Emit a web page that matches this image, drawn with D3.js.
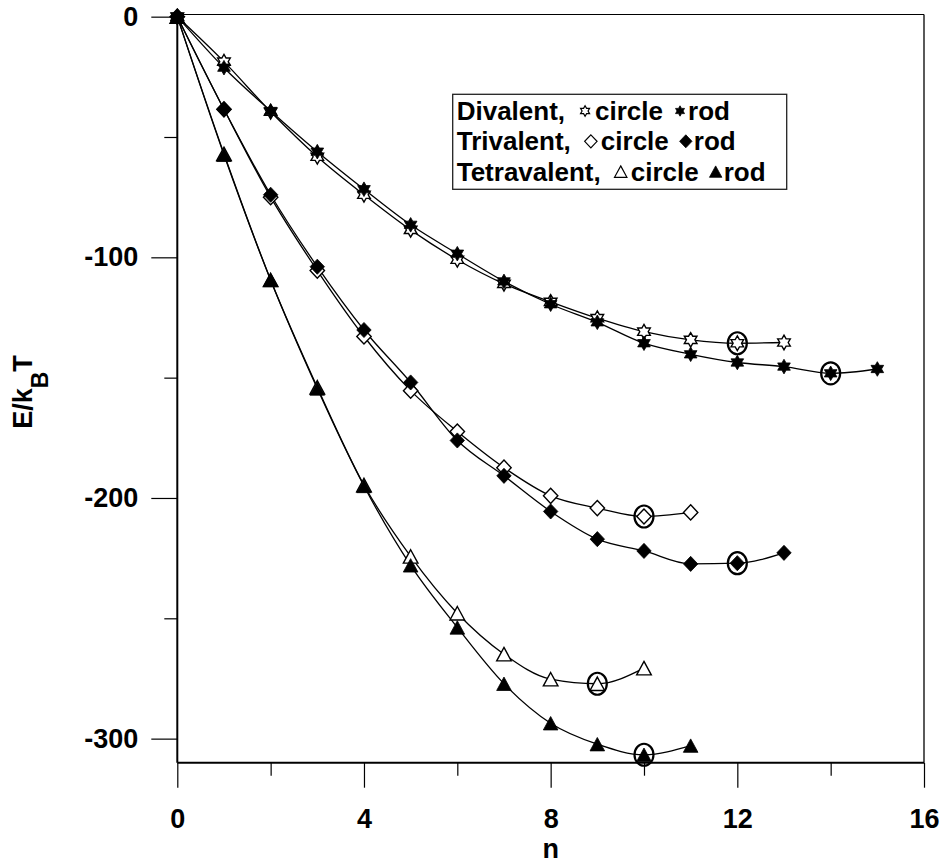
<!DOCTYPE html>
<html>
<head>
<meta charset="utf-8">
<script src="https://cdn.jsdelivr.net/npm/d3@7"></script>
<style>
  body { margin: 0; background: #fff; }
  svg text { font-family: "Liberation Sans", Arial, sans-serif; font-weight: bold; fill: #000; }
</style>
</head>
<body>
<svg id="chart" width="941" height="863"></svg>
<script>
// === data (E/kBT vs n) ===
const divCircleN = [0, 1, 2, 3, 4, 5, 6, 7, 8, 9, 10, 11, 12, 13];
const divCircle  = [0, -18.7, -39.5, -58.2, -74, -88.6, -101, -111, -118.5, -125.3, -130.9, -134.3, -135.7, -135.4];
const divRodN    = [0, 1, 2, 3, 4, 5, 6, 7, 8, 9, 10, 11, 12, 13, 14, 15];
const divRod     = [0, -21.2, -39.2, -56.1, -71.7, -86.5, -98.5, -110, -119.5, -127, -135.7, -140.3, -143.7, -145.4, -148.2, -146.4];
const triCircleN = [0, 1, 2, 3, 4, 5, 6, 7, 8, 9, 10, 11];
const triCircle  = [0, -38.5, -75, -105.5, -132.9, -155.4, -172.4, -187.4, -199.1, -204.2, -207.7, -206];
const triRodN    = [0, 1, 2, 3, 4, 5, 6, 7, 8, 9, 10, 11, 12, 13];
const triRod     = [0, -38.5, -74, -103.9, -130.2, -152, -176.1, -190.8, -205.6, -217.1, -222, -227.4, -227.1, -222.8];
const tetCircleN = [0, 1, 2, 3, 4, 5, 6, 7, 8, 9, 10];
const tetCircle  = [0, -57, -109.4, -154, -194.6, -224.3, -247.9, -264.9, -275.3, -277.2, -270.7];
const tetRodN    = [0, 1, 2, 3, 4, 5, 6, 7, 8, 9, 10, 11];
const tetRod     = [0, -57.4, -109.4, -154.5, -195, -228, -253.8, -277.2, -293.6, -302.3, -306.7, -302.9];

// n of the minimum of each series (ringed in the figure)
const minimaN = { divCircle: 12, divRod: 14, triCircle: 10, triRod: 12, tetCircle: 9, tetRod: 10 };

const xMajorTicks = [0, 4, 8, 12, 16];
const xMinorTicks = [2, 6, 10, 14];
const yMajorTicks = [0, -100, -200, -300];
const yMinorTicks = [-50, -150, -250];

const legendRows = [
  { label: "Divalent,",    shape: "star" },
  { label: "Trivalent,",   shape: "diamond" },
  { label: "Tetravalent,", shape: "triangle" }
];

// === layout ===
const svg = d3.select("#chart");
const plotL = 177.3, plotR = 924, plotT = 14.5, plotB = 762.7;

const x = d3.scaleLinear().domain([0, 16]).range([plotL, plotR]);
const y = d3.scaleLinear().domain([-310, 0.9]).range([plotB, plotT]);

// marker shapes (r = half extent)
function markerPath(shape, r) {
  if (shape === "star") {
    // six-pointed star, point up
    const pts = [];
    const inner = r / Math.sqrt(3);
    for (let i = 0; i < 12; i++) {
      const a = -Math.PI / 2 + i * Math.PI / 6;
      const rr = i % 2 === 0 ? r : inner;
      pts.push([rr * Math.cos(a), rr * Math.sin(a)]);
    }
    return "M" + pts.map(p => p.join(",")).join("L") + "Z";
  }
  if (shape === "diamond") {
    return `M0,${-r * 1.05}L${r},0L0,${r * 1.05}L${-r},0Z`;
  }
  // triangle, bbox centred
  return `M0,${-r * 0.92}L${r},${r * 0.92}L${-r},${r * 0.92}Z`;
}

// frame
svg.append("line").attr("x1", plotL).attr("x2", plotR).attr("y1", plotT).attr("y2", plotT)
  .attr("stroke", "#000").attr("stroke-width", 1.2);
svg.append("line").attr("x1", plotR).attr("x2", plotR).attr("y1", plotT).attr("y2", plotB)
  .attr("stroke", "#000").attr("stroke-width", 1.3);

// axes
const fontSize = 27;
const yAxis = svg.append("g").attr("transform", `translate(${plotL},0)`)
  .call(d3.axisLeft(y).tickValues(yMajorTicks).tickSize(26).tickPadding(13).tickFormat(d3.format("d")));
const yMinor = svg.append("g").attr("transform", `translate(${plotL},0)`)
  .call(d3.axisLeft(y).tickValues(yMinorTicks).tickSize(13).tickFormat(""));
const xAxis = svg.append("g").attr("transform", `translate(0,${plotB})`)
  .call(d3.axisBottom(x).tickValues(xMajorTicks).tickSize(25).tickPadding(21));
const xMinor = svg.append("g").attr("transform", `translate(0,${plotB})`)
  .call(d3.axisBottom(x).tickValues(xMinorTicks).tickSize(13).tickFormat(""));

[yAxis, yMinor, xAxis, xMinor].forEach(g => {
  g.select(".domain").remove();
  g.selectAll(".tick line").attr("stroke", "#000").attr("stroke-width", 1.2);
  g.selectAll("text").attr("font-size", fontSize)
    .attr("font-family", "'Liberation Sans', Arial, sans-serif").attr("font-weight", "bold");
});
yAxis.selectAll("text").text(d => d === 0 ? "0" : "-" + Math.abs(d));

// left and bottom axis lines (heavier)
svg.append("line").attr("x1", plotL).attr("x2", plotL).attr("y1", plotT).attr("y2", plotB)
  .attr("stroke", "#000").attr("stroke-width", 2);
svg.append("line").attr("x1", plotL).attr("x2", plotR).attr("y1", plotB).attr("y2", plotB)
  .attr("stroke", "#000").attr("stroke-width", 2);

// axis titles
svg.append("text").attr("x", x(8)).attr("y", 858).attr("text-anchor", "middle")
  .attr("font-size", fontSize).text("n");

const yTitle = svg.append("text")
  .attr("transform", "translate(31.7,392) rotate(-90)")
  .attr("text-anchor", "middle").attr("font-size", 27);
yTitle.append("tspan").text("E/k");
yTitle.append("tspan").attr("font-size", 23).attr("dy", 16).text("B");
yTitle.append("tspan").attr("dy", -16).text("T");

// series
const series = [
  { key: "divCircle", n: divCircleN, v: divCircle, shape: "star",     filled: false, r: 7.3 },
  { key: "divRod",    n: divRodN,    v: divRod,    shape: "star",     filled: true,  r: 7.3 },
  { key: "triCircle", n: triCircleN, v: triCircle, shape: "diamond",  filled: false, r: 7.2 },
  { key: "triRod",    n: triRodN,    v: triRod,    shape: "diamond",  filled: true,  r: 7.2 },
  { key: "tetCircle", n: tetCircleN, v: tetCircle, shape: "triangle", filled: false, r: 7.3 },
  { key: "tetRod",    n: tetRodN,    v: tetRod,    shape: "triangle", filled: true,  r: 7.3 }
];

const line = d3.line()
  .x(d => x(d[0]))
  .y(d => y(d[1]))
  .curve(d3.curveMonotoneX);

const plot = svg.append("g");

series.forEach(s => {
  const pts = s.n.map((n, i) => [n, s.v[i]]);
  plot.append("path")
    .attr("d", line(pts))
    .attr("fill", "none")
    .attr("stroke", "#000")
    .attr("stroke-width", 1.3);
});

// open markers first, filled on top
[...series.filter(s => !s.filled), ...series.filter(s => s.filled)].forEach(s => {
  plot.selectAll(null)
    .data(s.n.map((n, i) => [n, s.v[i]]))
    .enter()
    .append("path")
    .attr("transform", d => `translate(${x(d[0])},${y(d[1])})`)
    .attr("d", markerPath(s.shape, s.r))
    .attr("fill", s.filled ? "#000" : "#fff")
    .attr("stroke", "#000")
    .attr("stroke-width", s.filled ? 0.8 : 1.4);
});

// rings around the minima
series.forEach(s => {
  const n = minimaN[s.key];
  const v = s.v[s.n.indexOf(n)];
  plot.append("ellipse")
    .attr("cx", x(n)).attr("cy", y(v))
    .attr("rx", 9.5).attr("ry", 11)
    .attr("fill", "none").attr("stroke", "#000").attr("stroke-width", 2.2);
});

// legend
const legend = svg.append("g");
legend.append("rect")
  .attr("x", 452.7).attr("y", 94.3).attr("width", 334).attr("height", 95)
  .attr("fill", "#fff").attr("stroke", "#222").attr("stroke-width", 1.3);

const legendFont = 26;
legendRows.forEach((row, i) => {
  const base = 120 + i * 30.3;
  const x0 = 456.7;
  const lab = legend.append("text").attr("x", x0).attr("y", base)
    .attr("font-size", legendFont).text(row.label);
  const w = lab.node().getComputedTextLength();
  const sx1 = x0 + w + 20;
  const cy = base - 9;
  legend.append("path")
    .attr("transform", `translate(${sx1},${cy})`)
    .attr("d", markerPath(row.shape, row.shape === "star" ? 5.2 : 6.2))
    .attr("fill", "#fff").attr("stroke", "#000").attr("stroke-width", 1.2);
  const c = legend.append("text").attr("x", sx1 + 10).attr("y", base)
    .attr("font-size", legendFont).text("circle");
  const cw = c.node().getComputedTextLength();
  const sx2 = sx1 + 10 + cw + 17;
  legend.append("path")
    .attr("transform", `translate(${sx2},${cy})`)
    .attr("d", markerPath(row.shape, row.shape === "star" ? 5.2 : 6.2))
    .attr("fill", "#000").attr("stroke", "#000").attr("stroke-width", 0.8);
  legend.append("text").attr("x", sx2 + 8).attr("y", base)
    .attr("font-size", legendFont).text("rod");
});
</script>
</body>
</html>
